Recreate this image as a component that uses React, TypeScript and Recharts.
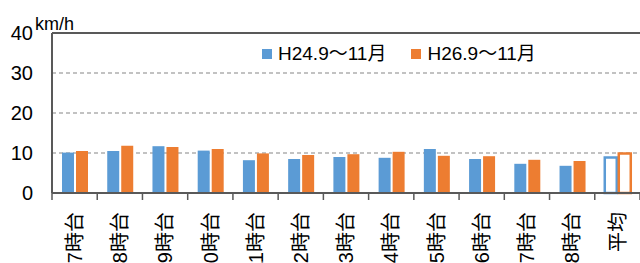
import React from 'react';
import { BarChart, Bar, XAxis, YAxis, CartesianGrid, ReferenceLine, Legend, Cell } from 'recharts';

const categories = ['7時台', '8時台', '9時台', '10時台', '11時台', '12時台', '13時台', '14時台', '15時台', '16時台', '17時台', '18時台', '平均'];
const seriesH24 = [10.1, 10.5, 11.7, 10.6, 8.2, 8.5, 9.0, 8.8, 11.0, 8.5, 7.3, 6.8, 8.9];
const seriesH26 = [10.5, 11.8, 11.5, 11.0, 9.9, 9.5, 9.7, 10.3, 9.3, 9.2, 8.3, 8.0, 9.9];
const seriesNames = ['H24.9～11月', 'H26.9～11月'];
const yTicks = [0, 10, 20, 30, 40];
const unitLabel = 'km/h';

const BLUE = '#5B9BD5';
const ORANGE = '#ED7D31';
const AXIS = '#595959';

const data = categories.map((c, i) => ({ name: c, h24: seriesH24[i], h26: seriesH26[i] }));

const W = 640;
const H = 263;
const LEFT = 52;
const step = (W - LEFT) / categories.length;
const FONT = '"Liberation Sans", Arial, "Noto Sans CJK JP", sans-serif';

function XTick(props: any) {
  const { x, y, payload, index } = props;
  return (
    <g>
      <line x1={x - step / 2} x2={x - step / 2} y1={y} y2={y + 7} stroke={AXIS} strokeWidth={1.5} />
      {index === categories.length - 1 && (
        <line x1={x + step / 2} x2={x + step / 2} y1={y} y2={y + 7} stroke={AXIS} strokeWidth={1.5} />
      )}
      <text
        transform={`translate(${x},${y + 19}) rotate(-90)`}
        textAnchor="end"
        dy="0.36em"
        fontSize={20}
        fill="#000"
        fontFamily={FONT}
      >
        {payload.value}
      </text>
    </g>
  );
}

function LegendContent() {
  const colors = [BLUE, ORANGE];
  return (
    <div style={{ display: 'flex', alignItems: 'center', fontFamily: FONT, fontSize: 19, lineHeight: '22px', color: '#000', whiteSpace: 'nowrap' }}>
      {seriesNames.map((n, i) => (
        <div key={n} style={{ display: 'flex', alignItems: 'center', marginRight: 25 }}>
          <span style={{ display: 'inline-block', width: 10, height: 10, background: colors[i], marginRight: 6 }} />
          <span>{n}</span>
        </div>
      ))}
    </div>
  );
}

export default function App() {
  return (
    <div style={{ position: 'absolute', left: 0, top: 0, width: W, height: H, background: '#fff' }}>
      <BarChart
        width={W}
        height={H}
        data={data}
        margin={{ top: 33, right: 0, bottom: 0, left: 0 }}
        barSize={12}
        barGap={2}
      >
        <CartesianGrid horizontal vertical={false} stroke="#868686" strokeDasharray="4 3" strokeWidth={1.2} />
        <XAxis
          dataKey="name"
          interval={0}
          height={70}
          tickSize={0}
          tickMargin={0}
          tickLine={false}
          axisLine={{ stroke: AXIS, strokeWidth: 2 }}
          tick={<XTick />}
        />
        <YAxis
          width={LEFT}
          domain={[0, 40]}
          ticks={yTicks}
          interval={0}
          tickSize={0}
          tickMargin={19}
          tickLine={false}
          axisLine={{ stroke: AXIS, strokeWidth: 2 }}
          tick={{ fontSize: 20, fill: '#000', fontFamily: FONT }}
        />
        <ReferenceLine y={40} stroke={AXIS} strokeWidth={2} />
        <Legend
          layout="horizontal"
          verticalAlign="middle"
          align="center"
          content={<LegendContent />}
          wrapperStyle={{ top: 43, left: 262, width: 'auto' }}
        />
        <Bar dataKey="h24" name={seriesNames[0]} fill={BLUE} isAnimationActive={false}>
          {data.map((d, i) => (
            <Cell
              key={i}
              fill={i === data.length - 1 ? '#fff' : BLUE}
              stroke={i === data.length - 1 ? BLUE : 'none'}
              strokeWidth={i === data.length - 1 ? 2.5 : 0}
            />
          ))}
        </Bar>
        <Bar dataKey="h26" name={seriesNames[1]} fill={ORANGE} isAnimationActive={false}>
          {data.map((d, i) => (
            <Cell
              key={i}
              fill={i === data.length - 1 ? '#fff' : ORANGE}
              stroke={i === data.length - 1 ? ORANGE : 'none'}
              strokeWidth={i === data.length - 1 ? 2.5 : 0}
            />
          ))}
        </Bar>
        <text x={35} y={30} fontSize={18} fill="#000" fontFamily={FONT}>{unitLabel}</text>
      </BarChart>
    </div>
  );
}
